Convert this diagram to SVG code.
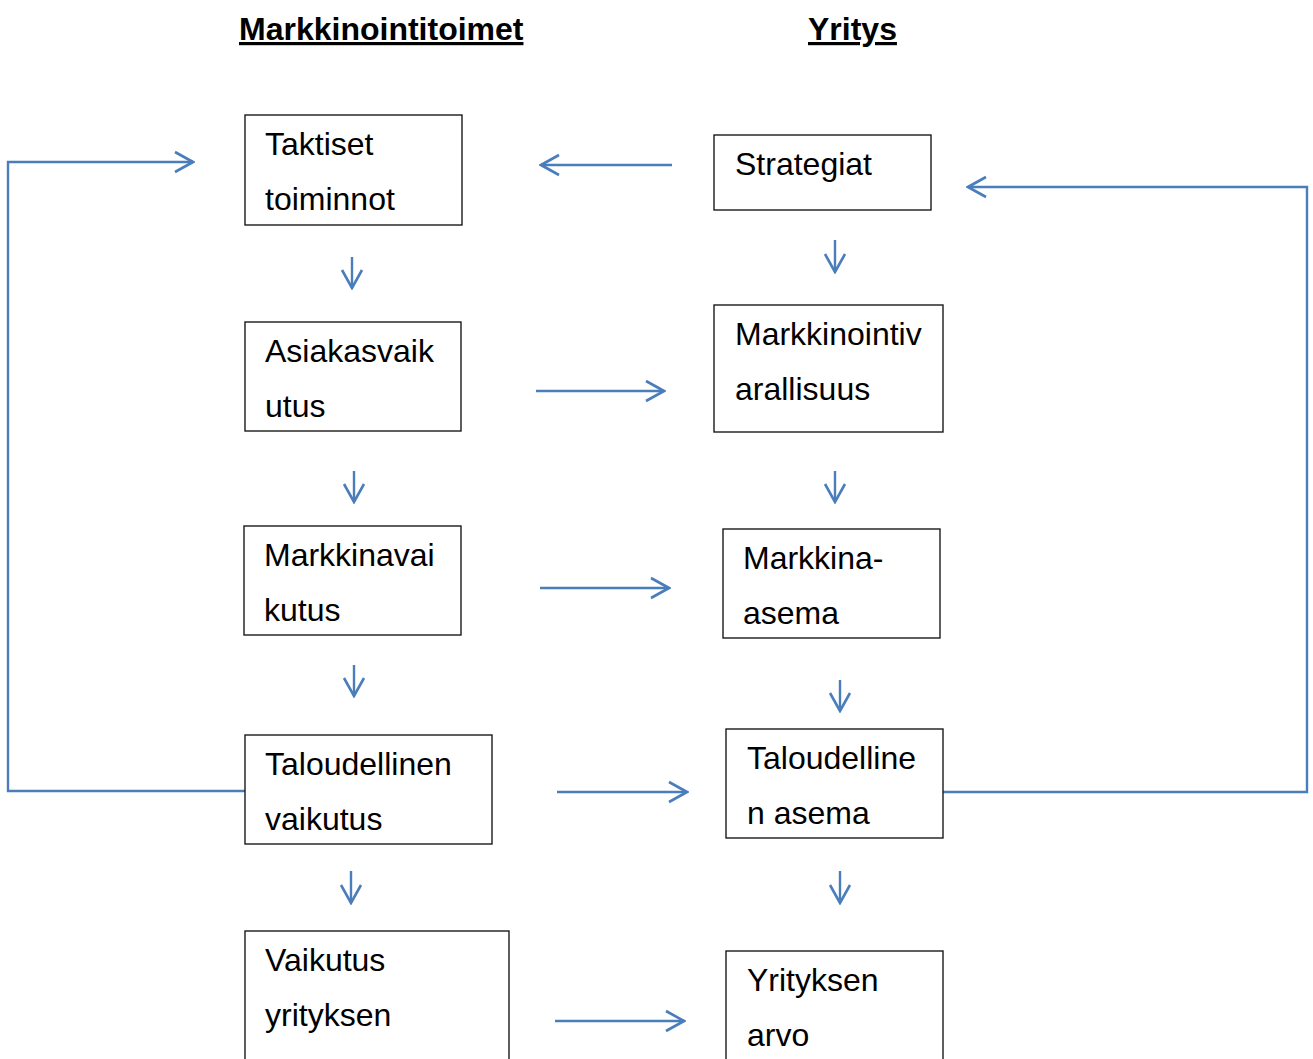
<svg xmlns="http://www.w3.org/2000/svg" width="1313" height="1059" viewBox="0 0 1313 1059">
<defs>
<style>
.box{fill:#fff;stroke:#1a1a1a;stroke-width:1.4}
.t{font-family:"Liberation Sans",Arial,sans-serif;font-size:32px;fill:#000}
.h{font-family:"Liberation Sans",Arial,sans-serif;font-size:32px;font-weight:bold;fill:#000;text-decoration:underline}
.c{fill:none;stroke:#4a7ebb;stroke-width:2.4;marker-end:url(#ah)}
</style>
<marker id="ah" markerUnits="userSpaceOnUse" viewBox="-20 -12 22 24" refX="0" refY="0" markerWidth="22" markerHeight="24" orient="auto">
<path d="M-18,-10 L0,0 L-18,10" fill="none" stroke="#4a7ebb" stroke-width="2.6"/>
</marker>
</defs>
<rect width="1313" height="1059" fill="#fff"/>
<text class="h" x="239" y="40">Markkinointitoimet</text>
<text class="h" x="808" y="40">Yritys</text>
<g id="connectors">
<path class="c" d="M245,791 H8 V162 H193"/>
<path class="c" d="M672,165 H541"/>
<path class="c" d="M943,792 H1307 V187 H968"/>
<path class="c" d="M352,257 V288"/>
<path class="c" d="M835,240 V272"/>
<path class="c" d="M354,471 V502"/>
<path class="c" d="M835,471 V502"/>
<path class="c" d="M354,665 V696"/>
<path class="c" d="M840,680 V711"/>
<path class="c" d="M351,871 V903"/>
<path class="c" d="M840,871 V903"/>
<path class="c" d="M536,391 H664"/>
<path class="c" d="M540,588 H669"/>
<path class="c" d="M557,792 H687"/>
<path class="c" d="M555,1021 H684"/>
</g>
<g id="taktiset"><rect class="box" x="245" y="115" width="217" height="110"/><text class="t" x="265" y="155">Taktiset</text><text class="t" x="265" y="210">toiminnot</text></g>
<g id="strategiat"><rect class="box" x="714" y="135" width="217" height="75"/><text class="t" x="735" y="175">Strategiat</text></g>
<g id="asiakasvaikutus"><rect class="box" x="245" y="322" width="216" height="109"/><text class="t" x="265" y="362">Asiakasvaik</text><text class="t" x="265" y="417">utus</text></g>
<g id="markkinointivarallisuus"><rect class="box" x="714" y="305" width="229" height="127"/><text class="t" x="735" y="345">Markkinointiv</text><text class="t" x="735" y="400">arallisuus</text></g>
<g id="markkinavaikutus"><rect class="box" x="244" y="526" width="217" height="109"/><text class="t" x="264" y="566">Markkinavai</text><text class="t" x="264" y="621">kutus</text></g>
<g id="markkina-asema"><rect class="box" x="723" y="529" width="217" height="109"/><text class="t" x="743" y="569">Markkina-</text><text class="t" x="743" y="624">asema</text></g>
<g id="taloudellinen-vaikutus"><rect class="box" x="245" y="735" width="247" height="109"/><text class="t" x="265" y="775">Taloudellinen</text><text class="t" x="265" y="830">vaikutus</text></g>
<g id="taloudellinen-asema"><rect class="box" x="726" y="729" width="217" height="109"/><text class="t" x="747" y="769">Taloudelline</text><text class="t" x="747" y="824">n asema</text></g>
<g id="vaikutus-yrityksen"><rect class="box" x="245" y="931" width="264" height="140"/><text class="t" x="265" y="971">Vaikutus</text><text class="t" x="265" y="1026">yrityksen</text></g>
<g id="yrityksen-arvo"><rect class="box" x="726" y="951" width="217" height="120"/><text class="t" x="747" y="991">Yrityksen</text><text class="t" x="747" y="1046">arvo</text></g>
</svg>
